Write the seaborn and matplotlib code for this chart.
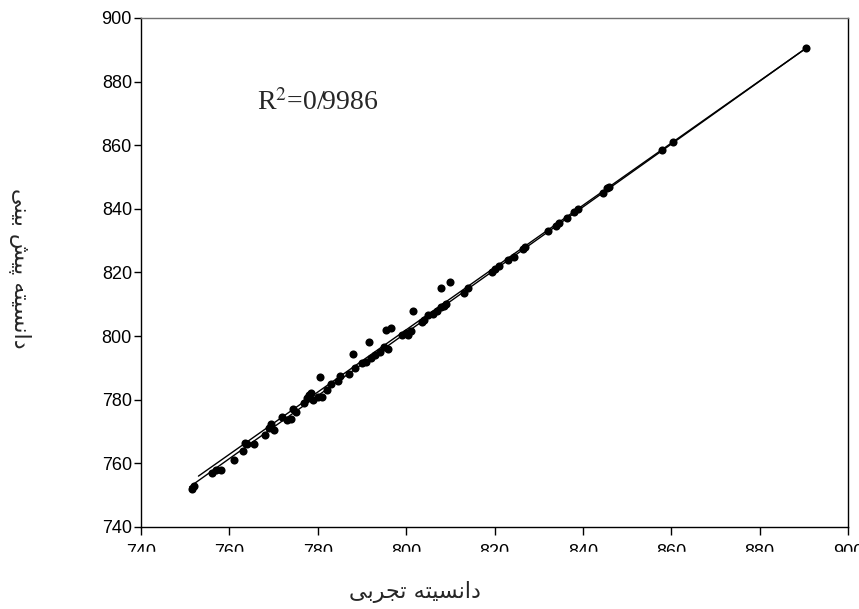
import numpy as np
import pandas as pd
import matplotlib
matplotlib.use("Agg")
import matplotlib.pyplot as plt
import seaborn as sns
from matplotlib.patches import Rectangle

# ---------------- data ----------------
measured = [751.5, 752.0, 756.0, 757.0, 758.0, 761.0, 763.0, 763.5, 764.0, 765.5,
            768.0, 769.0, 769.5, 770.0, 772.0, 773.0, 774.0, 774.5, 775.0,
            777.0, 777.5, 778.0, 778.5, 779.0, 780.0, 780.5, 781.0,
            782.0, 783.0, 784.5, 785.0, 787.0, 788.0, 788.5, 790.0, 791.0, 791.5,
            792.0, 793.0, 794.0, 795.0, 795.5, 796.0, 796.5,
            799.0, 800.0, 800.5, 801.0, 801.5, 803.5, 804.0, 805.0, 806.0, 807.0,
            808.0, 808.0, 808.5, 809.0, 810.0, 813.0, 814.0,
            819.5, 820.0, 821.0, 823.0, 824.5, 826.5, 827.0,
            832.0, 834.0, 834.5, 836.5, 838.0, 839.0,
            844.5, 845.5, 846.0, 858.0, 860.5, 890.5]
predicted = [752.0, 753.0, 757.0, 758.0, 758.0, 761.0, 764.0, 766.5, 766.0, 766.0,
             769.0, 771.0, 772.5, 770.5, 774.5, 773.5, 774.0, 777.0, 776.0,
             779.0, 780.5, 781.5, 782.0, 780.0, 781.0, 787.0, 781.0,
             783.0, 785.0, 786.0, 787.5, 788.0, 794.5, 790.0, 791.5, 792.0, 798.0,
             793.0, 794.0, 795.0, 796.5, 802.0, 796.0, 802.5,
             800.5, 801.0, 800.5, 801.5, 808.0, 804.5, 805.0, 806.5, 807.0, 808.0,
             809.0, 815.0, 809.5, 810.0, 817.0, 813.5, 815.0,
             820.0, 821.0, 822.0, 824.0, 825.0, 827.5, 828.0,
             833.0, 834.5, 835.5, 837.0, 839.0, 840.0,
             845.0, 846.5, 847.0, 858.5, 861.0, 890.5]

fit_line_x = [751.0, 890.5]
fit_line_y = [752.6, 890.5]
trend_line_x = [753.0, 890.5]
trend_line_y = [756.0, 890.5]

x_ticks = [740, 760, 780, 800, 820, 840, 860, 880, 900]
y_ticks = [740, 760, 780, 800, 820, 840, 860, 880, 900]
r2_label = "R$^{2}$=0/9986"
x_label = "دانسیته تجربی"
y_label = "دانسیته پیش بینی"

# ---------------- simple Arabic-script shaping ----------------
FORMS = {  # isolated, final, initial, medial
    "\u0627": ("\uFE8D", "\uFE8E", None, None),
    "\u062F": ("\uFEA9", "\uFEAA", None, None),
    "\u0631": ("\uFEAD", "\uFEAE", None, None),
    "\u0628": ("\uFE8F", "\uFE90", "\uFE91", "\uFE92"),
    "\u062A": ("\uFE95", "\uFE96", "\uFE97", "\uFE98"),
    "\u062C": ("\uFE9D", "\uFE9E", "\uFE9F", "\uFEA0"),
    "\u0633": ("\uFEB1", "\uFEB2", "\uFEB3", "\uFEB4"),
    "\u0634": ("\uFEB5", "\uFEB6", "\uFEB7", "\uFEB8"),
    "\u0646": ("\uFEE5", "\uFEE6", "\uFEE7", "\uFEE8"),
    "\u0647": ("\uFEE9", "\uFEEA", "\uFEEB", "\uFEEC"),
    "\u067E": ("\uFB56", "\uFB57", "\uFB58", "\uFB59"),
    "\u06CC": ("\uFBFC", "\uFBFD", "\uFBFE", "\uFBFF"),
}


def shape(text):
    out = []
    for i, ch in enumerate(text):
        if ch not in FORMS:
            out.append(ch)
            continue
        iso, fin, ini, med = FORMS[ch]
        prev = text[i - 1] if i > 0 else ""
        nxt = text[i + 1] if i + 1 < len(text) else ""
        join_prev = prev in FORMS and FORMS[prev][2] is not None
        join_next = nxt in FORMS and ini is not None
        if join_prev and join_next:
            out.append(med)
        elif join_prev:
            out.append(fin)
        elif join_next:
            out.append(ini)
        else:
            out.append(iso)
    return "".join(out)[::-1]


# ---------------- plotting ----------------
sns.set_style("ticks")
plt.rcParams["font.family"] = ["Liberation Sans", "DejaVu Sans"]
plt.rcParams["mathtext.fontset"] = "stix"

fig = plt.figure(figsize=(8.59, 6.09), dpi=100)
ax = fig.add_axes([141 / 859, 1 - 527 / 609, 707 / 859, 509 / 609])

df = pd.DataFrame({"measured": measured, "predicted": predicted})
sns.lineplot(x=fit_line_x, y=fit_line_y, ax=ax, color="black", lw=1.0)
sns.lineplot(x=trend_line_x, y=trend_line_y, ax=ax, color="black", lw=1.0)
sns.scatterplot(data=df, x="measured", y="predicted", ax=ax, color="black",
                s=34, linewidth=0, zorder=3)

ax.set_xlim(740, 900)
ax.set_ylim(740, 900)
ax.set_xticks(x_ticks)
ax.set_yticks(y_ticks)
ax.set_xticklabels([str(t) for t in x_ticks])
ax.set_yticklabels([str(t) for t in y_ticks])
ax.set_xlabel("")
ax.set_ylabel("")
ax.tick_params(axis="both", labelsize=13, colors="black", width=1.0)
ax.tick_params(axis="x", length=6, pad=6)
ax.tick_params(axis="y", length=5, pad=1.5)
for side in ["left", "bottom", "right"]:
    ax.spines[side].set_visible(True)
    ax.spines[side].set_color("black")
    ax.spines[side].set_linewidth(1.0)
ax.spines["top"].set_visible(True)
ax.spines["top"].set_color("#707070")
ax.spines["top"].set_linewidth(1.0)

ax.text(0.164, 0.819, r2_label, transform=ax.transAxes, ha="left",
        va="baseline", fontsize=20, family=["Liberation Serif", "DejaVu Serif"])

fig.text(415 / 859, 1 - 592 / 609, shape(x_label), ha="center", va="center",
         fontsize=16, family=["DejaVu Sans"])
fig.text(20 / 859, 1 - 268 / 609, shape(y_label), ha="center", va="center",
         rotation=270, fontsize=16, family=["DejaVu Sans"])

# the reference crops the lower half of the x tick labels
fig.patches.append(Rectangle((0, 1 - 568 / 609), 1, 16 / 609,
                             transform=fig.transFigure, color="white", zorder=10))

fig.savefig("out.png", dpi=100)
